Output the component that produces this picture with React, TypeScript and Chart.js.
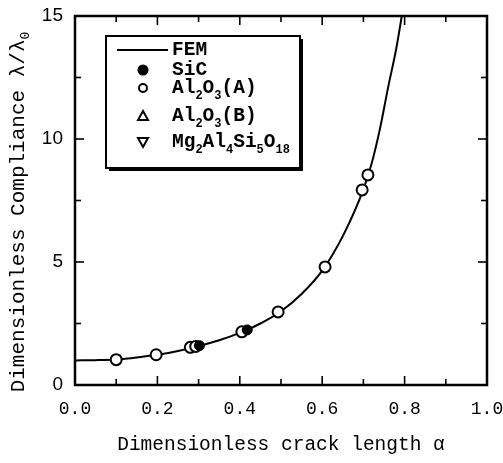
import React, { useEffect, useRef } from 'react';
import { Chart, registerables } from 'chart.js';

Chart.register(...registerables);

// FEM compliance curve: crack length alpha vs. lambda/lambda0
const femAlpha = [0, 0.05, 0.1, 0.15, 0.2, 0.25, 0.3, 0.35, 0.4, 0.45, 0.5, 0.55, 0.6, 0.65, 0.7, 0.72, 0.74, 0.76, 0.78, 0.8];
const femCompliance = [1.0, 1.01, 1.04, 1.12, 1.23, 1.38, 1.58, 1.82, 2.12, 2.5, 3.0, 3.7, 4.65, 6.05, 7.95, 9.0, 10.4, 12.1, 13.7, 15.7];

// Measured points, Al2O3 (A)
const al2o3AAlpha = [0.1, 0.197, 0.28, 0.293, 0.405, 0.493, 0.607, 0.697, 0.711];
const al2o3ACompliance = [1.03, 1.23, 1.53, 1.57, 2.16, 2.97, 4.8, 7.93, 8.54];

// Measured points, SiC
const sicAlpha = [0.302, 0.418];
const sicCompliance = [1.6, 2.24];

// Axis ticks
const xMajorTicks = [0, 0.2, 0.4, 0.6, 0.8, 1.0];
const xMinorTicks = [0.1, 0.3, 0.5, 0.7, 0.9];
const yMajorTicks = [0, 5, 10, 15];
const yMinorTicks = [2.5, 7.5, 12.5];

const xTitle = 'Dimensionless crack length \u03b1';
const yTitleParts: [string, boolean][] = [['Dimensionless Compliance \u03bb/\u03bb', false], ['0', true]];

type Part = [string, boolean];
const legendLabels: Part[][] = [
  [['FEM', false]],
  [['SiC', false]],
  [['Al', false], ['2', true], ['O', false], ['3', true], ['(A)', false]],
  [['Al', false], ['2', true], ['O', false], ['3', true], ['(B)', false]],
  [['Mg', false], ['2', true], ['Al', false], ['4', true], ['Si', false], ['5', true], ['O', false], ['18', true]],
];
const legendMarkers = ['line', 'filledCircle', 'openCircle', 'triangleUp', 'triangleDown'];

const MONO = '"Liberation Mono", "Courier New", monospace';
const SANS = '"Liberation Sans", Arial, sans-serif';

function toXY(xs: number[], ys: number[]) {
  return xs.map((x, i) => ({ x, y: ys[i] }));
}

function drawRich(ctx: CanvasRenderingContext2D, parts: Part[], x: number, y: number, size: number, subSize: number, drop: number, weight = 'normal') {
  let cx = x;
  for (const [t, sub] of parts) {
    ctx.font = `${weight} ${sub ? subSize : size}px ${MONO}`;
    ctx.fillText(t, cx, sub ? y + drop : y);
    cx += ctx.measureText(t).width;
  }
  return cx - x;
}

function richWidth(ctx: CanvasRenderingContext2D, parts: Part[], size: number, subSize: number) {
  let w = 0;
  for (const [t, sub] of parts) {
    ctx.font = `${sub ? subSize : size}px ${MONO}`;
    w += ctx.measureText(t).width;
  }
  return w;
}

function drawMarker(ctx: CanvasRenderingContext2D, kind: string, x: number, y: number) {
  ctx.lineWidth = 2;
  ctx.strokeStyle = '#000';
  ctx.fillStyle = '#000';
  if (kind === 'line') {
    ctx.beginPath();
    ctx.moveTo(x - 26, y);
    ctx.lineTo(x + 25, y);
    ctx.stroke();
  } else if (kind === 'filledCircle') {
    ctx.beginPath();
    ctx.arc(x, y, 5.5, 0, Math.PI * 2);
    ctx.fill();
  } else if (kind === 'openCircle') {
    ctx.beginPath();
    ctx.arc(x, y, 4, 0, Math.PI * 2);
    ctx.stroke();
  } else if (kind === 'triangleUp') {
    ctx.beginPath();
    ctx.moveTo(x, y - 5);
    ctx.lineTo(x + 5, y + 4);
    ctx.lineTo(x - 5, y + 4);
    ctx.closePath();
    ctx.stroke();
  } else if (kind === 'triangleDown') {
    ctx.beginPath();
    ctx.moveTo(x, y + 5);
    ctx.lineTo(x + 5, y - 4);
    ctx.lineTo(x - 5, y - 4);
    ctx.closePath();
    ctx.stroke();
  }
}

const decorPlugin = {
  id: 'frameTicksLegend',
  afterDraw(chart: any) {
    const { ctx, chartArea: a, scales } = chart;
    const xs = scales.x;
    const ys = scales.y;
    ctx.save();
    ctx.strokeStyle = '#000';

    // inward ticks on all four sides
    const seg = (x1: number, y1: number, x2: number, y2: number) => {
      ctx.beginPath();
      ctx.moveTo(x1, y1);
      ctx.lineTo(x2, y2);
      ctx.stroke();
    };
    ctx.lineWidth = 1.6;
    const xt = (vals: number[], len: number) => vals.forEach((v) => {
      const p = xs.getPixelForValue(v);
      seg(p, a.bottom, p, a.bottom - len);
      seg(p, a.top, p, a.top + len);
    });
    const yt = (vals: number[], len: number) => vals.forEach((v) => {
      const p = ys.getPixelForValue(v);
      seg(a.left, p, a.left + len, p);
      seg(a.right, p, a.right - len, p);
    });
    xt(xMajorTicks, 9);
    xt(xMinorTicks, 6);
    yt(yMajorTicks, 9);
    yt(yMinorTicks, 6);

    // frame
    ctx.lineWidth = 2.5;
    ctx.strokeRect(a.left, a.top, a.right - a.left, a.bottom - a.top);

    // legend box with drop shadow
    const bx = 106, by = 36, bw = 194, bh = 132;
    ctx.fillStyle = '#000';
    ctx.fillRect(bx + 3, by + 3, bw, bh);
    ctx.fillStyle = '#fff';
    ctx.fillRect(bx, by, bw, bh);
    ctx.lineWidth = 2;
    ctx.strokeRect(bx, by, bw, bh);

    const rowsY = [50, 70, 88, 116, 142];
    ctx.textBaseline = 'middle';
    ctx.textAlign = 'left';
    legendLabels.forEach((parts, i) => {
      drawMarker(ctx, legendMarkers[i], 143, rowsY[i]);
      ctx.fillStyle = '#000';
      drawRich(ctx, parts, 172, rowsY[i], 19.5, 12, 8, 'bold');
    });

    // y-axis title, rotated
    ctx.save();
    ctx.translate(18, 212);
    ctx.rotate(-Math.PI / 2);
    ctx.fillStyle = '#000';
    const w = richWidth(ctx, yTitleParts, 21, 13);
    drawRich(ctx, yTitleParts, -w / 2, 0, 21, 13, 8);
    ctx.restore();

    ctx.restore();
  },
};

export default function App() {
  const canvasRef = useRef<HTMLCanvasElement | null>(null);

  useEffect(() => {
    const canvas = canvasRef.current;
    if (!canvas) return;
    const chart = new Chart(canvas, {
      type: 'scatter',
      data: {
        datasets: [
          {
            label: 'Al2O3 (A)',
            data: toXY(al2o3AAlpha, al2o3ACompliance),
            pointStyle: 'circle',
            pointRadius: 5.5,
            pointBorderWidth: 2,
            pointBackgroundColor: '#fff',
            pointBorderColor: '#000',
            showLine: false,
            order: 2,
          },
          {
            label: 'SiC',
            data: toXY(sicAlpha, sicCompliance),
            pointStyle: 'circle',
            pointRadius: 5,
            pointBorderWidth: 1,
            pointBackgroundColor: '#000',
            pointBorderColor: '#000',
            showLine: false,
            order: 1,
          },
          {
            label: 'FEM',
            data: toXY(femAlpha, femCompliance),
            showLine: true,
            pointRadius: 0,
            borderColor: '#000',
            borderWidth: 2,
            cubicInterpolationMode: 'monotone',
            order: 3,
          },
        ],
      },
      options: {
        responsive: false,
        animation: false,
        events: [],
        layout: { padding: { left: 0, top: 16, right: 16, bottom: 0 } },
        plugins: {
          legend: { display: false },
          tooltip: { enabled: false },
        },
        scales: {
          x: {
            type: 'linear',
            min: 0,
            max: 1,
            afterFit: (s: any) => { s.height = 78; s.paddingLeft = 0; s.paddingRight = 0; },
            grid: { display: false, drawTicks: false },
            border: { display: false },
            ticks: {
              stepSize: 0.2,
              padding: 13,
              color: '#000',
              font: { family: MONO, size: 18 },
              callback: (v: any) => Number(v).toFixed(1),
            },
            title: {
              display: true,
              text: xTitle,
              color: '#000',
              font: { family: MONO, size: 19.5 },
              padding: { top: 0, bottom: 6 },
            },
          },
          y: {
            type: 'linear',
            min: 0,
            max: 15,
            afterFit: (s: any) => { s.width = 75; s.paddingTop = 0; s.paddingBottom = 0; },
            grid: { display: false, drawTicks: false },
            border: { display: false },
            ticks: {
              stepSize: 5,
              padding: 12,
              color: '#000',
              font: { family: SANS, size: 19 },
            },
          },
        },
      },
      plugins: [decorPlugin],
    });
    return () => chart.destroy();
  }, []);

  return (
    <div style={{ position: 'absolute', left: 0, top: 0, width: 503, height: 463, background: '#fff' }}>
      <canvas ref={canvasRef} width={503} height={463} />
    </div>
  );
}
